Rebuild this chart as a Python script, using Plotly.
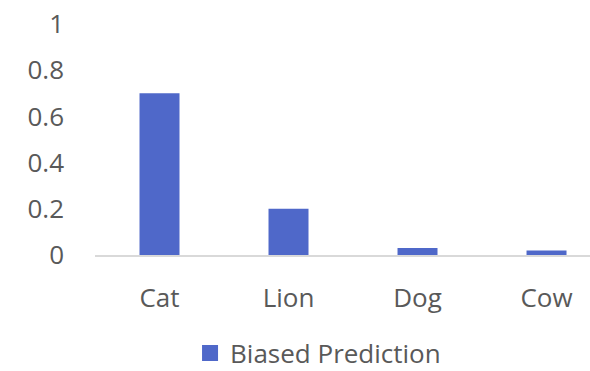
import plotly.graph_objects as go

# Prediction scores per class
categories = ["Cat", "Lion", "Dog", "Cow"]
biased_prediction = [0.70, 0.20, 0.03, 0.02]
y_ticks = [0, 0.2, 0.4, 0.6, 0.8, 1]
y_tick_labels = ["0", "0.2", "0.4", "0.6", "0.8", "1"]

BAR_COLOR = "#4F68C9"
TEXT_COLOR = "#595959"
FONT = "Open Sans"

fig = go.Figure()
fig.add_trace(go.Bar(
    x=categories,
    y=biased_prediction,
    width=0.31,
    marker=dict(color=BAR_COLOR, line=dict(width=0)),
    showlegend=False,
    name="Biased Prediction",
))
# legend entry with a larger square swatch
fig.add_trace(go.Scatter(
    x=[None], y=[None], mode="markers",
    marker=dict(symbol="square", size=19, color=BAR_COLOR),
    name="Biased Prediction",
    showlegend=True,
))

fig.update_layout(
    width=590, height=371,
    margin=dict(l=95, r=0, t=23.5, b=116, autoexpand=False),
    paper_bgcolor="white",
    plot_bgcolor="white",
    font=dict(family=FONT, size=26, color=TEXT_COLOR),
    legend=dict(
        orientation="h",
        x=0.192, xanchor="left",
        y=-0.425, yanchor="middle",
        font=dict(family=FONT, size=26, color=TEXT_COLOR),
        itemwidth=30,
        bgcolor="rgba(0,0,0,0)",
    ),
)
fig.update_xaxes(
    type="category",
    range=[-0.5, 3.337],
    showgrid=False,
    showline=True,
    linecolor="#D9D9D9",
    linewidth=2,
    ticks="",
    ticklabelstandoff=19,
    zeroline=False,
)
fig.update_yaxes(
    range=[0, 1],
    tickvals=y_ticks,
    ticktext=y_tick_labels,
    showgrid=False,
    zeroline=False,
    showline=False,
    ticks="",
    ticklabelstandoff=30,
)

fig.write_html("out.html")
